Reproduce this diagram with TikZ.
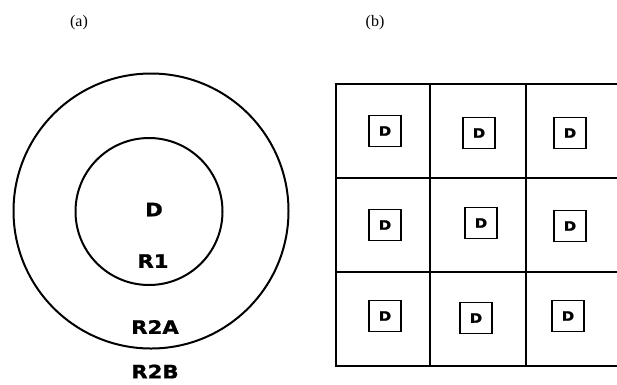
\documentclass[tikz,border=0pt]{standalone}
\usepackage{fontspec}
\setmainfont{Liberation Serif}
\newfontfamily\lblfont[FakeStretch=1.15,FakeBold=1.2]{DejaVu Sans Bold}
\begin{document}
\begin{tikzpicture}[x=1pt,y=-1pt,
  panel/.style={font=\fontsize{16}{18}\selectfont, inner sep=0pt},
  region/.style={font=\lblfont\fontsize{18.5}{20}\selectfont, inner sep=0pt},
  ring/.style={draw, line width=2pt},
  gridline/.style={line width=2.5pt, line cap=rect},
  dbox/.style={draw, line width=1.3pt, minimum width=32pt, minimum height=31pt, inner sep=0pt,
    font=\lblfont\fontsize{13}{15}\selectfont}]
\useasboundingbox (0,0) rectangle (617,384);
\clip (0,0) rectangle (617,384);
% panel labels
\node[panel] (pa) at (79,23) {(a)};
\node[panel] (pb) at (375,23) {(b)};
% (a) rings
\draw[ring] (151,211) circle[radius=137.5];
\draw[ring] (149,211.5) circle[radius=73.5];
\node[region] (lD) at (154,209.5) {D};
\node[region] (lR1) at (153,261) {R1};
\node[region] (lR2A) at (155,327) {R2A};
\node[region] (lR2B) at (155,371.5) {R2B};
% (b) grid
\draw[gridline] (336,84) -- (630,84);
\draw[gridline] (336,178) -- (630,178);
\draw[gridline] (336,272) -- (630,272);
\draw[gridline] (336,366) -- (630,366);
\draw[gridline] (336,84) -- (336,366);
\draw[gridline] (430,84) -- (430,366);
\draw[gridline] (526,84) -- (526,366);
% D boxes
\node[dbox] (d11) at (385,131) {D};
\node[dbox] (d12) at (479,133) {D};
\node[dbox] (d13) at (570,133) {D};
\node[dbox] (d21) at (385,225) {D};
\node[dbox] (d22) at (481,223) {D};
\node[dbox] (d23) at (570,226) {D};
\node[dbox] (d31) at (385,316) {D};
\node[dbox] (d32) at (476,318) {D};
\node[dbox] (d33) at (568,316) {D};
\end{tikzpicture}
\end{document}
